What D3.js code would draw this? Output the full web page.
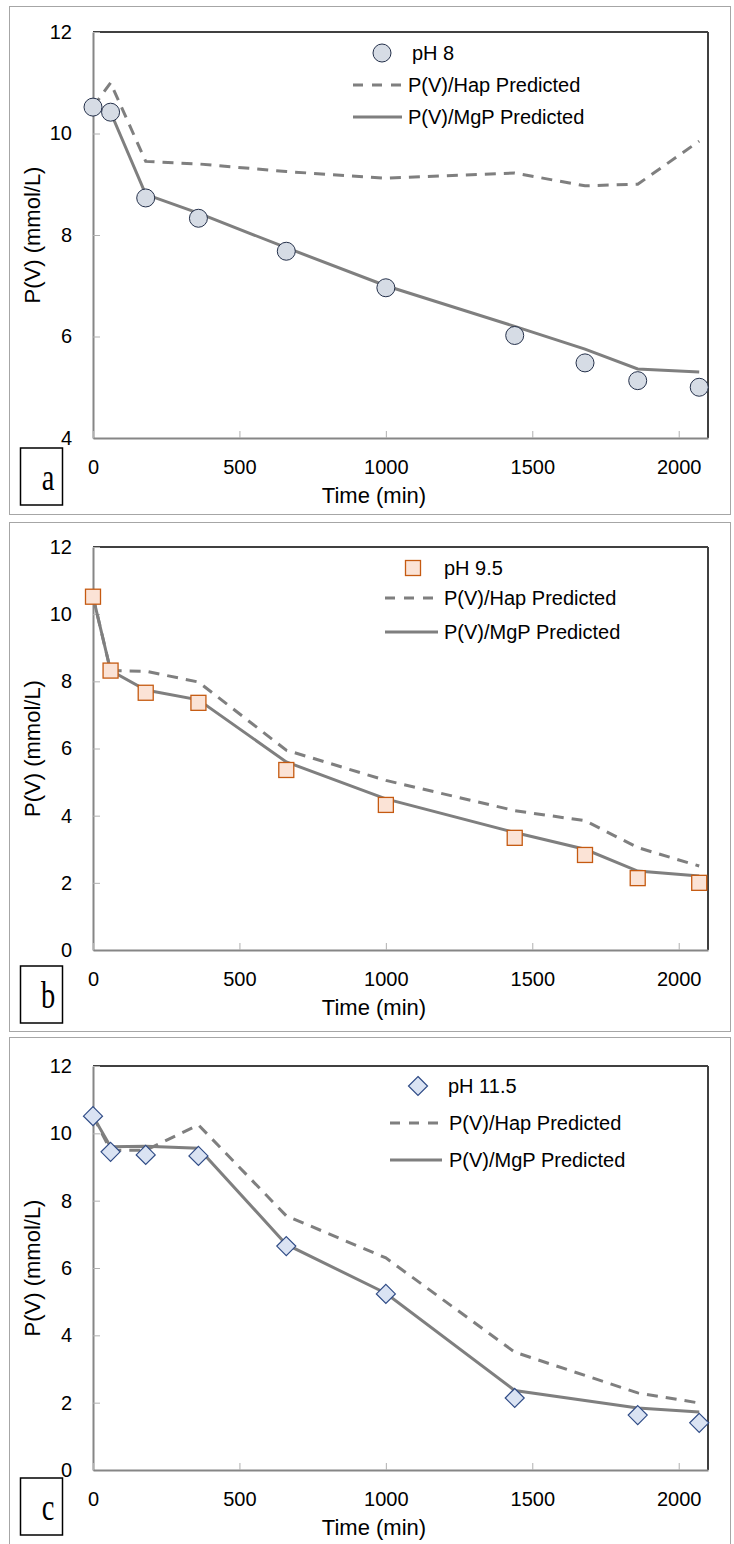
<!DOCTYPE html>
<html>
<head>
<meta charset="utf-8">
<script src="https://cdn.jsdelivr.net/npm/d3@7"></script>
<style>
  body { margin: 0; background: #fff; }
  svg { display: block; font-family: "Liberation Sans", Arial, sans-serif; }
</style>
</head>
<body>
<svg id="chart" width="734" height="1544"></svg>
<script>
// Sampling times (min)
const timeAB = [0, 60, 180, 360, 660, 1000, 1440, 1680, 1860, 2070];
const timeC  = [0, 60, 180, 360, 660, 1000, 1440, 1860, 2070];

// pH 8
const pH8Measured = [10.52, 10.42, 8.73, 8.33, 7.68, 6.96, 6.02, 5.48, 5.13, 5.00];
const pH8Hap      = [10.52, 11.00, 9.45, 9.40, 9.25, 9.12, 9.22, 8.97, 9.00, 9.85];
const pH8MgP      = [10.52, 10.42, 8.80, 8.43, 7.75, 7.00, 6.20, 5.75, 5.36, 5.30];

// pH 9.5
const pH95Measured = [10.52, 8.32, 7.66, 7.36, 5.36, 4.32, 3.34, 2.83, 2.14, 2.00];
const pH95Hap      = [10.52, 8.32, 8.30, 7.98, 5.95, 5.05, 4.15, 3.85, 3.05, 2.50];
const pH95MgP      = [10.52, 8.32, 7.74, 7.45, 5.60, 4.50, 3.50, 3.00, 2.35, 2.20];

// pH 11.5
const pH115Measured = [10.51, 9.45, 9.36, 9.33, 6.65, 5.23, 2.14, 1.63, 1.40];
const pH115Hap      = [10.51, 9.50, 9.50, 10.25, 7.55, 6.30, 3.50, 2.29, 1.99];
const pH115MgP      = [10.51, 9.60, 9.62, 9.56, 6.70, 5.25, 2.36, 1.84, 1.72];

// Axis ticks
const xTicks = [0, 500, 1000, 1500, 2000];
const yTicksA = [4, 6, 8, 10, 12];
const yTicksBC = [0, 2, 4, 6, 8, 10, 12];

const seriesNames = ["P(V)/Hap Predicted", "P(V)/MgP Predicted"];

const panels = [
  { letter: "a", label: "pH 8", marker: "circle", time: timeAB,
    measured: pH8Measured, hap: pH8Hap, mgp: pH8MgP, yDomain: [4, 12], yTicks: yTicksA,
    frame: [6, 514], plot: [32, 438], boxGap: 10,
    legend: { mx: 382, tx: 412, lx0: 353, lx1: 402, ltx: 408, rows: [53, 85, 117] } },
  { letter: "b", label: "pH 9.5", marker: "square", time: timeAB,
    measured: pH95Measured, hap: pH95Hap, mgp: pH95MgP, yDomain: [0, 12], yTicks: yTicksBC,
    frame: [522, 1031], plot: [547, 950], boxGap: 16,
    legend: { mx: 413, tx: 444, lx0: 385, lx1: 438, ltx: 444, rows: [568, 598, 632] } },
  { letter: "c", label: "pH 11.5", marker: "diamond", time: timeC,
    measured: pH115Measured, hap: pH115Hap, mgp: pH115MgP, yDomain: [0, 12], yTicks: yTicksBC,
    frame: [1037, 1550], plot: [1066, 1470], boxGap: 8,
    legend: { mx: 418, tx: 448, lx0: 390, lx1: 442, ltx: 449, rows: [1086, 1123, 1160] } }
];

const svg = d3.select("#chart");
const plotLeft = 93, plotRight = 708;
const lineColor = "#7f7f7f";

const markerStyles = {
  circle:  { fill: "#d6dce5", stroke: "#24304a" },
  square:  { fill: "#fbe3d6", stroke: "#c55a11" },
  diamond: { fill: "#dae3f3", stroke: "#2f4b86" }
};

function drawMarker(g, type, x, y) {
  const st = markerStyles[type];
  if (type === "circle") {
    g.append("circle").attr("cx", x).attr("cy", y).attr("r", 9)
      .attr("fill", st.fill).attr("stroke", st.stroke).attr("stroke-width", 1);
  } else if (type === "square") {
    g.append("rect").attr("x", x - 7.5).attr("y", y - 7.5).attr("width", 15).attr("height", 15)
      .attr("fill", st.fill).attr("stroke", st.stroke).attr("stroke-width", 1.3);
  } else {
    const h = 9.5;
    g.append("path").attr("d", `M${x},${y - h}L${x + h},${y}L${x},${y + h}L${x - h},${y}Z`)
      .attr("fill", st.fill).attr("stroke", st.stroke).attr("stroke-width", 1.2);
  }
}

panels.forEach(p => {
  const g = svg.append("g");
  const [top, bottom] = p.plot;

  // panel frame
  g.append("rect").attr("x", 9.5).attr("y", p.frame[0] + 0.5)
    .attr("width", 721).attr("height", p.frame[1] - p.frame[0])
    .attr("fill", "none").attr("stroke", "#a6a6a6").attr("stroke-width", 1);

  const x = d3.scaleLinear().domain([0, 2100]).range([plotLeft, plotRight]);
  const y = d3.scaleLinear().domain(p.yDomain).range([bottom, top]);

  // top and right plot borders
  g.append("line").attr("x1", plotLeft).attr("x2", plotRight).attr("y1", top).attr("y2", top)
    .attr("stroke", "#000").attr("stroke-width", 1.3);
  g.append("line").attr("x1", plotRight).attr("x2", plotRight).attr("y1", top).attr("y2", bottom)
    .attr("stroke", "#404040").attr("stroke-width", 2);

  // y axis
  const yAxis = g.append("g").attr("transform", `translate(${plotLeft},0)`)
    .call(d3.axisLeft(y).tickValues(p.yTicks).tickSizeInner(-7).tickSizeOuter(0).tickPadding(21).tickFormat(d3.format("d")));
  yAxis.select(".domain").attr("stroke", "#868686").attr("stroke-width", 2);
  yAxis.selectAll(".tick line").attr("stroke", "#b0b0b0").attr("stroke-width", 1);
  yAxis.selectAll(".tick text").attr("font-size", 20).attr("fill", "#000")
    .attr("font-family", "'Liberation Sans', Arial, sans-serif");

  // x axis
  const xAxis = g.append("g").attr("transform", `translate(0,${bottom})`)
    .call(d3.axisBottom(x).tickValues(xTicks).tickSizeInner(-7).tickSizeOuter(0).tickPadding(22).tickFormat(d3.format("d")));
  xAxis.select(".domain").attr("stroke", "#868686").attr("stroke-width", 2);
  xAxis.selectAll(".tick line").attr("stroke", "#b0b0b0").attr("stroke-width", 1);
  xAxis.selectAll(".tick text").attr("font-size", 20).attr("fill", "#000")
    .attr("font-family", "'Liberation Sans', Arial, sans-serif");

  // axis titles
  g.append("text").attr("x", 374).attr("y", bottom + 65).attr("text-anchor", "middle")
    .attr("font-size", 22).text("Time (min)");
  g.append("text").attr("transform", `translate(40,${(top + bottom) / 2}) rotate(-90)`)
    .attr("text-anchor", "middle").attr("font-size", 22).text("P(V) (mmol/L)");

  // model lines
  const line = d3.line().x((d, i) => x(p.time[i])).y(d => y(d));
  g.append("path").datum(p.hap).attr("d", line).attr("fill", "none")
    .attr("stroke", lineColor).attr("stroke-width", 3).attr("stroke-dasharray", "11,8");
  g.append("path").datum(p.mgp).attr("d", line).attr("fill", "none")
    .attr("stroke", lineColor).attr("stroke-width", 3);

  // measured points
  const mg = g.append("g");
  p.measured.forEach((v, i) => drawMarker(mg, p.marker, x(p.time[i]), y(v)));

  // legend
  const L = p.legend;
  drawMarker(g, p.marker, L.mx, L.rows[0]);
  g.append("text").attr("x", L.tx).attr("y", L.rows[0] + 7).attr("font-size", 20).text(p.label);
  seriesNames.forEach((name, k) => {
    const ly = L.rows[k + 1];
    g.append("line").attr("x1", L.lx0).attr("x2", L.lx1).attr("y1", ly).attr("y2", ly)
      .attr("stroke", lineColor).attr("stroke-width", 3)
      .attr("stroke-dasharray", k === 0 ? "10,9" : null);
    g.append("text").attr("x", L.ltx).attr("y", ly + 7).attr("font-size", 20).text(name);
  });

  // panel letter box
  const boxTop = bottom + p.boxGap;
  g.append("rect").attr("x", 20.5).attr("y", boxTop).attr("width", 42).attr("height", 57)
    .attr("fill", "#fff").attr("stroke", "#000").attr("stroke-width", 1.5);
  g.append("text").attr("transform", `translate(48,${boxTop + 42}) scale(0.75,1)`)
    .attr("text-anchor", "middle").attr("font-family", "'Liberation Serif', 'Times New Roman', serif")
    .attr("font-size", 38).text(p.letter);
});
</script>
</body>
</html>
